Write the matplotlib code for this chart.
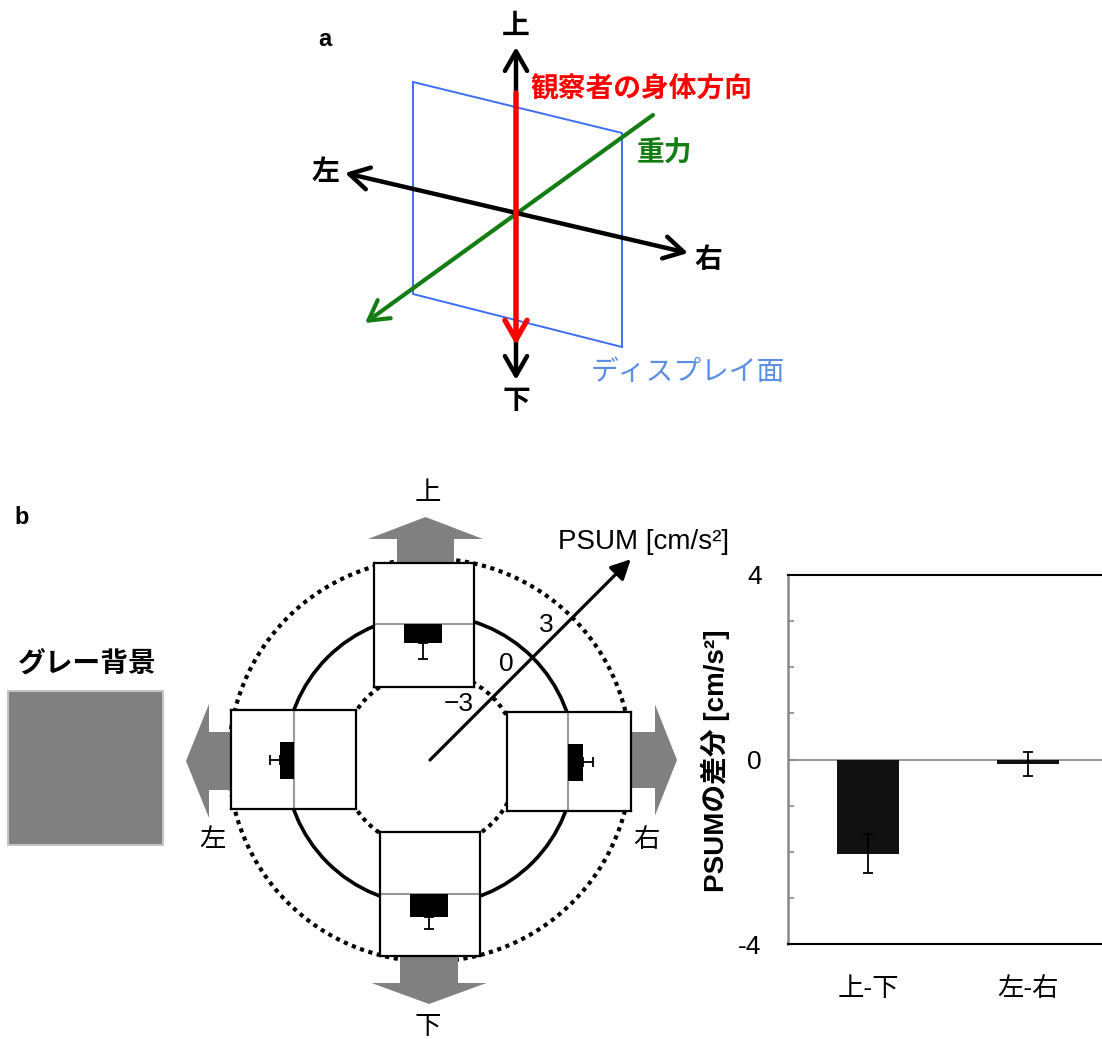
import numpy as np
import matplotlib.pyplot as plt
from matplotlib.patches import Circle, Polygon, FancyArrow, Rectangle

plt.rcParams["font.family"] = ["Liberation Sans", "Noto Sans CJK JP"]

W, H = 1102, 1039

# panel b, centre: PSUM per motion direction (radial units, outward = positive)
DIRECTIONS = ["上", "下", "左", "右"]
PSUM_BY_DIRECTION = [-1.0, 1.2, 0.75, 0.8]
PSUM_ERR = [0.85, 0.65, 0.55, 0.55]
RING_VALUES = [-3, 0, 3]
RING_LABELS = ["\u22123", "0", "3"]

# panel b, right: differences
DIFF_LABELS = ["上-下", "左-右"]
DIFF_VALUES = [-2.04, -0.1]
DIFF_ERR = [0.42, 0.26]
DIFF_TICKS = list(range(-4, 5))
DIFF_TICK_LABELS = ["-4", "", "", "", "0", "", "", "", "4"]

GRAY = "#808080"
MIDLINE = "#999999"


def frac(x0, y0, x1, y1):
    # pixel box (top-left origin) -> figure fraction rect
    return [x0 / W, 1 - y1 / H, (x1 - x0) / W, (y1 - y0) / H]


fig = plt.figure(figsize=(W / 100, H / 100), dpi=100)
ax = fig.add_axes([0, 0, 1, 1])
ax.set_xlim(0, W)
ax.set_ylim(H, 0)
ax.axis("off")

# ---------------- panel a ----------------
ax.text(325, 40, "a", fontsize=17, fontweight="bold", ha="center", va="center")
ax.add_patch(Polygon([(413, 82), (622, 133), (622, 347), (413, 294)], closed=True,
                     fill=False, ec="#3d6ff5", lw=1.4, zorder=1))


def arrow(p_from, p_to, style, color, lw, z, scale=20):
    ax.annotate("", xy=p_to, xytext=p_from, zorder=z,
                arrowprops=dict(arrowstyle=style, color=color, lw=lw,
                                shrinkA=0, shrinkB=0, mutation_scale=scale))


head = "head_length=0.7,head_width=0.4"
arrow((653, 115), (365, 323), "->," + head, "#137d13", 3, 2)
arrow((345, 173), (688, 253), "<->," + head, "black", 3.2, 3)
arrow((516, 380), (516, 47), "<->," + head, "black", 3.2, 3)
arrow((516, 93), (516, 345), "->," + head, "#ff0000", 3.8, 4)

ax.text(516, 27, "上", fontsize=20, fontweight="bold", ha="center", va="center")
ax.text(516, 402, "下", fontsize=20, fontweight="bold", ha="center", va="center")
ax.text(325, 173, "左", fontsize=20, fontweight="bold", ha="center", va="center")
ax.text(708, 261, "右", fontsize=20, fontweight="bold", ha="center", va="center")
ax.text(664, 154, "重力", fontsize=20, fontweight="bold", color="#137d13",
        ha="center", va="center")
ax.text(530, 90, "観察者の身体方向", fontsize=20, fontweight="bold", color="#ff0000",
        ha="left", va="center")
ax.text(688, 373, "ディスプレイ面", fontsize=20, color="#5a8fe3",
        ha="center", va="center")

# ---------------- panel b ----------------
ax.text(22, 518, "b", fontsize=17, fontweight="bold", ha="center", va="center")
ax.text(87, 664, "グレー背景", fontsize=20, fontweight="bold", ha="center", va="center")
ax.add_patch(Rectangle((8, 691), 155, 154, fc=GRAY, ec="#c4c4c4", lw=1.5))

CX, CY = 430, 760
R0, PX_PER_UNIT = 145, 18.8


def ring_radius(v):
    return R0 + PX_PER_UNIT * v


for v in RING_VALUES:
    if v == 0:
        ax.add_patch(Circle((CX, CY), ring_radius(v), fill=False, ec="black", lw=2.6))
    else:
        ax.add_patch(Circle((CX, CY), ring_radius(v), fill=False, ec="black", lw=3.0,
                            ls=(0, (1, 1.1))))

# big grey direction arrows (under the boxes)
ax.add_patch(FancyArrow(425.5, 600, 0, 517 - 600, width=57, head_width=115, head_length=22,
                        length_includes_head=True, color=GRAY, lw=0))
ax.add_patch(FancyArrow(429, 920, 0, 1004 - 920, width=58, head_width=115, head_length=21,
                        length_includes_head=True, color=GRAY, lw=0))
ax.add_patch(FancyArrow(260, 761, 186 - 260, 0, width=58, head_width=114, head_length=23,
                        length_includes_head=True, color=GRAY, lw=0))
ax.add_patch(FancyArrow(600, 760, 677 - 600, 0, width=56, head_width=111, head_length=22,
                        length_includes_head=True, color=GRAY, lw=0))

# PSUM radial axis
ang = np.deg2rad(45)
arrow((CX, CY), (CX + 284 * np.cos(ang), CY - 284 * np.sin(ang)),
      "-|>,head_length=0.6,head_width=0.3", "black", 2.3, 5)
for v, lab in zip(RING_VALUES, RING_LABELS):
    r = ring_radius(v)
    ax.text(CX + r * np.cos(ang) - 19, CY - r * np.sin(ang) + 7, lab, fontsize=19,
            ha="right", va="center")
ax.text(558, 542, "PSUM [cm/s²]", fontsize=20, ha="left", va="center")

ax.text(428, 493, "上", fontsize=19, ha="center", va="center")
ax.text(428, 1027, "下", fontsize=19, ha="center", va="center")
ax.text(212, 840, "左", fontsize=19, ha="center", va="center")
ax.text(646, 840, "右", fontsize=19, ha="center", va="center")

# small bar boxes, one per direction
BOX_RECTS = {"上": (374, 563, 474, 687), "下": (380, 832, 480, 956),
             "左": (231, 710, 356, 809), "右": (507, 712, 631, 811)}
ZERO_PX = {"上": 624, "下": 894, "左": 293, "右": 568}

for d, val, err in zip(DIRECTIONS, PSUM_BY_DIRECTION, PSUM_ERR):
    x0, y0, x1, y1 = BOX_RECTS[d]
    bax = fig.add_axes(frac(x0, y0, x1, y1), zorder=2)
    bax.set_facecolor("white")
    for s in bax.spines.values():
        s.set_color("black")
        s.set_linewidth(1.6)
    bax.set_xticks([])
    bax.set_yticks([])
    lo, hi = (err, 0) if val < 0 else (0, err)
    z = ZERO_PX[d]
    if d in ("上", "下"):
        bax.set_xlim(0, 1)
        bax.set_ylim(-(y1 - z) / PX_PER_UNIT, (z - y0) / PX_PER_UNIT)
        if d == "下":
            bax.invert_yaxis()
        bax.axhline(0, color=MIDLINE, lw=1.5, zorder=1)
        bax.bar([0.49], [val], width=0.38, color="black", zorder=2)
        bax.errorbar([0.49], [val], yerr=[[lo], [hi]], fmt="none", ecolor="black",
                     elinewidth=1.3, capsize=3.3, capthick=1.3, zorder=3)
    else:
        bax.set_ylim(0, 1)
        bax.set_xlim(-(z - x0) / PX_PER_UNIT, (x1 - z) / PX_PER_UNIT)
        if d == "左":
            bax.invert_xaxis()
        bax.axvline(0, color=MIDLINE, lw=1.5, zorder=1)
        bax.barh([0.49], [val], height=0.38, color="black", zorder=2)
        bax.errorbar([val], [0.49], xerr=[[lo], [hi]], fmt="none", ecolor="black",
                     elinewidth=1.3, capsize=3.3, capthick=1.3, zorder=3)

# ---------------- difference bar chart ----------------
bx = fig.add_axes(frac(788, 575, 1108, 944))
xs = np.arange(len(DIFF_LABELS))
bx.axhline(0, color=MIDLINE, lw=1.5, zorder=1)
bx.bar(xs, DIFF_VALUES, width=0.39, color="#111111", zorder=2)
bx.errorbar(xs, DIFF_VALUES, yerr=DIFF_ERR, fmt="none", ecolor="black",
            elinewidth=1.3, capsize=3.3, capthick=1.3, zorder=3)
bx.set_xlim(-0.5, 1.5)
bx.set_ylim(-4, 4)
bx.set_yticks(DIFF_TICKS)
bx.set_yticklabels(DIFF_TICK_LABELS, fontsize=19)
bx.tick_params(axis="y", direction="in", length=4, width=1.2, color="#888888", pad=19)
bx.set_xticks(xs)
bx.set_xticklabels(DIFF_LABELS, fontsize=19)
bx.tick_params(axis="x", length=0, pad=24)
bx.spines["left"].set_color("#888888")
bx.spines["left"].set_linewidth(1.8)
for s in ("top", "bottom"):
    bx.spines[s].set_color("black")
    bx.spines[s].set_linewidth(1.5)
bx.spines["right"].set_visible(False)

ax.text(715, 761, "PSUMの差分 [cm/s²]", rotation=90, fontsize=20, fontweight="bold",
        ha="center", va="center")

fig.savefig("out.png", dpi=100)
